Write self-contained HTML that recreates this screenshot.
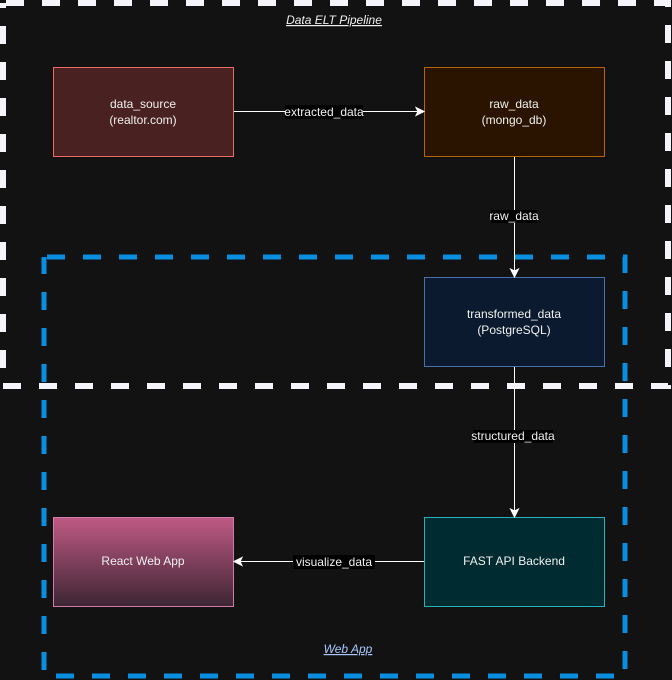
<!DOCTYPE html>
<html><head><style>
html,body{margin:0;padding:0;background:#121212;}
svg{display:block;}
text{font-family:"Liberation Sans",sans-serif;font-size:12px;fill:#f0f0f0;}
</style></head><body>
<svg width="672" height="680" viewBox="0 0 672 680" xmlns="http://www.w3.org/2000/svg">
<defs>
<linearGradient id="rg" x1="0" y1="0" x2="0" y2="1">
<stop offset="0" stop-color="#c05a85"/><stop offset="1" stop-color="#3c2532"/>
</linearGradient>
</defs>
<rect x="0" y="0" width="672" height="680" fill="#121212"/>
<rect x="3" y="3" width="665" height="383" fill="none" stroke="#f4f4fa" stroke-width="6" stroke-dasharray="18 18" stroke-dashoffset="-3"/>
<rect x="44" y="257" width="581" height="419" fill="none" stroke="#0a8ee0" stroke-width="5" stroke-dasharray="18 18" stroke-dashoffset="-3"/>
<text x="334" y="24" text-anchor="middle" font-style="italic" text-decoration="underline">Data ELT Pipeline</text>
<rect x="53.5" y="67.5" width="180" height="89" fill="#4a2121" stroke="#ea6b66"/>
<text x="143" y="108" text-anchor="middle">data_source</text>
<text x="143" y="124" text-anchor="middle">(realtor.com)</text>
<rect x="424.5" y="67.5" width="180" height="89" fill="#2a1400" stroke="#b46504"/>
<text x="514" y="108" text-anchor="middle">raw_data</text>
<text x="514" y="124" text-anchor="middle">(mongo_db)</text>
<rect x="424.5" y="277.5" width="180" height="89" fill="#0b1a2e" stroke="#4a70a8"/>
<text x="514" y="318" text-anchor="middle">transformed_data</text>
<text x="514" y="334" text-anchor="middle">(PostgreSQL)</text>
<rect x="424.5" y="517.5" width="180" height="89" fill="#002b30" stroke="#2ab0b8"/>
<text x="514" y="565" text-anchor="middle">FAST API Backend</text>
<rect x="53.5" y="517.5" width="180" height="89" fill="url(#rg)" stroke="#d07ba8"/>
<text x="143" y="565" text-anchor="middle">React Web App</text>
<g stroke="#fff" stroke-width="1" fill="#fff">
<line x1="234" y1="111.5" x2="418" y2="111.5"/>
<path d="M424 111.5 L416 107.5 L418 111.5 L416 115.5Z"/>
<line x1="514.5" y1="157" x2="514.5" y2="271"/>
<path d="M514.5 277 L510.5 269 L514.5 271 L518.5 269Z"/>
<line x1="514.5" y1="367" x2="514.5" y2="511"/>
<path d="M514.5 517 L510.5 509 L514.5 511 L518.5 509Z"/>
<line x1="424" y1="561.5" x2="240" y2="561.5"/>
<path d="M234 561.5 L242 557.5 L240 561.5 L242 565.5Z"/>
</g>
<rect x="285" y="105" width="78" height="14" fill="#000"/>
<text x="324" y="116" text-anchor="middle" font-size="11">extracted_data</text>
<rect x="491" y="210" width="46" height="13" fill="#000"/>
<text x="514" y="220" text-anchor="middle" font-size="10.5">raw_data</text>
<rect x="474" y="430" width="79" height="13" fill="#000"/>
<text x="513" y="440" text-anchor="middle" font-size="10.5">structured_data</text>
<rect x="293" y="555" width="82" height="14" fill="#000"/>
<text x="334" y="566" text-anchor="middle" font-size="12">visualize_data</text>
<text x="348" y="653" text-anchor="middle" font-style="italic" text-decoration="underline" style="fill:#a8c8ff">Web App</text>
</svg>
</body></html>
